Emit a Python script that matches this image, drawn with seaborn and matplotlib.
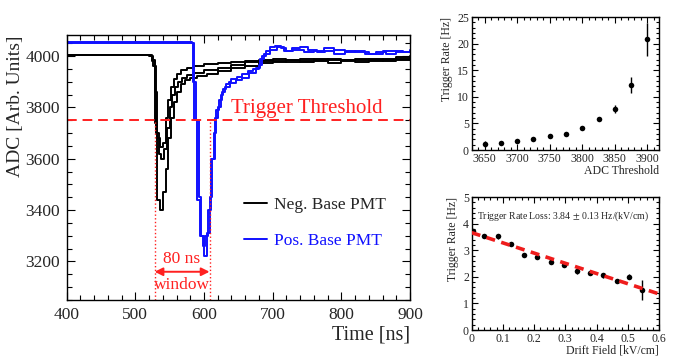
import numpy as np
import pandas as pd
import matplotlib
matplotlib.use("Agg")
import matplotlib.pyplot as plt
from matplotlib.ticker import MultipleLocator, FormatStrFormatter
import seaborn as sns

# waveforms: (time [ns], ADC) breakpoints, drawn as steps
neg_t1 = [400, 520, 524, 528, 532, 536, 540, 544, 548, 552, 556, 560, 566, 572, 580, 590, 605, 620, 640, 660, 680, 700, 720, 740, 760, 780, 800, 820, 840, 860, 880, 900]
neg_v1 = [4006, 4003, 3985, 3740, 3440, 3400, 3470, 3560, 3680, 3760, 3820, 3860, 3890, 3905, 3915, 3922, 3932, 3942, 3952, 3962, 3972, 3982, 3978, 3988, 3984, 3974, 3984, 3990, 3980, 3990, 3985, 3992]
neg_t2 = [400, 522, 526, 530, 534, 538, 542, 546, 550, 554, 558, 562, 568, 575, 585, 600, 620, 640, 660, 680, 700, 720, 740, 760, 780, 800, 820, 840, 860, 880, 900]
neg_v2 = [4005, 4000, 3960, 3700, 3620, 3600, 3640, 3720, 3800, 3850, 3880, 3900, 3915, 3925, 3935, 3945, 3955, 3965, 3975, 3980, 3975, 3985, 3980, 3990, 3985, 3980, 3985, 3990, 3985, 3995, 4000]
neg_t3 = [400, 520, 524, 528, 532, 536, 540, 544, 548, 552, 556, 560, 566, 575, 585, 600, 620, 640, 660, 680, 700, 720, 740, 760, 780, 800, 820, 840, 860, 880, 900]
neg_v3 = [4004, 4002, 3980, 3860, 3680, 3645, 3660, 3760, 3830, 3880, 3910, 3930, 3945, 3955, 3962, 3968, 3972, 3975, 3980, 3985, 3990, 3985, 3975, 3980, 3990, 3985, 3975, 3985, 3980, 3990, 3985]

pos_t1 = [400, 580, 584, 588, 592, 596, 600, 604, 608, 612, 616, 620, 624, 628, 632, 636, 640, 648, 656, 664, 672, 680, 684, 690, 696, 704, 712, 720, 730, 745, 760, 775, 790, 805, 820, 835, 850, 865, 880, 890, 900]
pos_v1 = [4052, 4050, 3900, 3750, 3450, 3300, 3220, 3310, 3450, 3600, 3760, 3800, 3850, 3870, 3890, 3900, 3910, 3920, 3930, 3940, 3950, 3965, 4000, 4020, 4035, 4040, 4030, 4020, 4025, 4015, 4020, 4030, 4025, 4015, 4020, 4010, 4015, 4010, 4020, 4015, 4025]
pos_t2 = [400, 582, 586, 590, 594, 598, 602, 606, 610, 614, 618, 622, 626, 630, 638, 646, 656, 666, 676, 682, 688, 696, 706, 716, 728, 740, 752, 764, 776, 790, 805, 820, 840, 860, 880, 900]
pos_v2 = [4055, 4052, 3750, 3440, 3300, 3260, 3300, 3400, 3600, 3700, 3790, 3830, 3860, 3880, 3895, 3905, 3915, 3935, 3955, 3990, 4010, 4025, 4035, 4020, 4030, 4035, 4025, 4015, 4020, 4010, 4020, 4015, 4010, 4020, 4015, 4020]

threshold = 3750
window_start = 528
window_end = 608

# trigger rate vs ADC threshold
adc_thr = [3650, 3675, 3700, 3725, 3750, 3775, 3800, 3825, 3850, 3875, 3900]
rate_thr = [1.13, 1.38, 1.76, 2.07, 2.58, 3.0, 4.2, 5.78, 7.73, 12.3, 20.85]
rate_thr_err = [0.6, 0.2, 0.2, 0.2, 0.2, 0.2, 0.25, 0.35, 0.75, 1.5, 3.1]

# trigger rate vs drift field
field = [0.003, 0.0405, 0.084, 0.126, 0.168, 0.21, 0.253, 0.295, 0.337, 0.38, 0.42, 0.464, 0.504, 0.546]
rate_field = [3.71, 3.54, 3.52, 3.24, 2.81, 2.74, 2.55, 2.45, 2.2, 2.16, 2.05, 1.85, 2.01, 1.51]
rate_field_err = [0.08, 0.08, 0.08, 0.08, 0.08, 0.08, 0.08, 0.08, 0.08, 0.08, 0.08, 0.08, 0.08, 0.38]
fit_intercept = 3.66
fit_slope = -3.84
fit_range = [0.0, 0.6]

sns.set_theme(style="ticks")
plt.rcParams['font.family'] = ['Liberation Serif', 'DejaVu Serif']
plt.rcParams['mathtext.fontset'] = 'stix'

fig = plt.figure(figsize=(6.78, 3.58), dpi=100)
ax = fig.add_axes([0.0984, 0.162, 0.5063, 0.7402])
ax_top = fig.add_axes([0.6957, 0.581, 0.2763, 0.3715])
ax_bot = fig.add_axes([0.6957, 0.0782, 0.2763, 0.3715])


def root_ticks(a, xmaj, xmin, ymaj, ymin, size, major_len, minor_len, pad):
    a.xaxis.set_major_locator(MultipleLocator(xmaj))
    a.xaxis.set_minor_locator(MultipleLocator(xmin))
    a.yaxis.set_major_locator(MultipleLocator(ymaj))
    a.yaxis.set_minor_locator(MultipleLocator(ymin))
    a.tick_params(which='both', direction='in', top=True, right=True,
                  labelsize=size, width=0.8, color='black', pad=pad)
    a.tick_params(which='major', length=major_len)
    a.tick_params(which='minor', length=minor_len)
    for s in a.spines.values():
        s.set_linewidth(1.0)
        s.set_color('black')


# --- main waveform panel
for t, v in [(neg_t1, neg_v1), (neg_t2, neg_v2), (neg_t3, neg_v3)]:
    sns.lineplot(x=t, y=v, ax=ax, color='black', lw=1.4, drawstyle='steps-post',
                 estimator=None, sort=False)
for t, v in [(pos_t1, pos_v1), (pos_t2, pos_v2)]:
    sns.lineplot(x=t, y=v, ax=ax, color='#1010ff', lw=1.4, drawstyle='steps-post',
                 estimator=None, sort=False)

ax.axhline(threshold, color='#ff2020', lw=1.4, ls=(0, (5, 3)))
ax.text(0.921, 0.7245, 'Trigger Threshold', transform=ax.transAxes, ha='right',
        va='center', color='#ff2020', fontsize=15)
for w in [window_start, window_end]:
    ax.plot([w, w], [3050, threshold], color='#ff2020', lw=1.0, ls=':')
ax.annotate('', xy=(window_start, 3160), xytext=(window_end, 3160),
            arrowprops=dict(arrowstyle='<|-|>', color='#ff2020', lw=1.4,
                            mutation_scale=12, shrinkA=0, shrinkB=0))
ax.text((window_start + window_end) / 2, 3208, '%d ns' % (window_end - window_start),
        ha='center', va='center', color='#ff2020', fontsize=12.5)
ax.text((window_start + window_end) / 2, 3110, 'window', ha='center', va='center',
        color='#ff2020', fontsize=12.5)

ax.plot([], [], color='black', lw=1.4, label='Neg. Base PMT')
ax.plot([], [], color='#1010ff', lw=1.4, label='Pos. Base PMT')
leg = ax.legend(loc='lower right', bbox_to_anchor=(0.975, 0.135), frameon=False,
                fontsize=12.5, handlelength=1.3, labelspacing=1.1, handletextpad=0.4)
leg.get_texts()[1].set_color('#1010ff')

ax.set_xlim(400, 900)
ax.set_ylim(3050, 4082)
root_ticks(ax, 100, 20, 200, 50, 12.5, 6, 3.5, 5)
ax.set_xlabel('Time [ns]', fontsize=14.5, loc='right', labelpad=2)
ax.set_ylabel('ADC [Arb. Units]', fontsize=14, loc='top', labelpad=1)

# --- trigger rate vs threshold
df_thr = pd.DataFrame({'thr': adc_thr, 'rate': rate_thr})
ax_top.errorbar(adc_thr, rate_thr, yerr=rate_thr_err, fmt='none', ecolor='black',
                elinewidth=1.0)
sns.scatterplot(data=df_thr, x='thr', y='rate', ax=ax_top, color='black', s=16,
                edgecolor='black', linewidth=0, zorder=3)
ax_top.set_xlim(3630, 3918)
ax_top.set_ylim(0, 25)
root_ticks(ax_top, 50, 10, 5, 1, 8.5, 4, 2, 2)
ax_top.set_xlabel('ADC Threshold', fontsize=8.5, loc='right', labelpad=0)
ax_top.set_ylabel('Trigger Rate [Hz]', fontsize=8.5, loc='top', labelpad=3)

# --- trigger rate vs drift field
df_field = pd.DataFrame({'field': field, 'rate': rate_field})
ax_bot.errorbar(field, rate_field, yerr=rate_field_err, fmt='none', ecolor='black',
                elinewidth=1.0)
sns.scatterplot(data=df_field, x='field', y='rate', ax=ax_bot, color='black', s=16,
                linewidth=0, zorder=3)
fit_y = [fit_intercept + fit_slope * x for x in fit_range]
sns.lineplot(x=fit_range, y=fit_y, ax=ax_bot, color='#ee1c1c', lw=2.6,
             ls=(0, (2.5, 1.8)), zorder=4)
ax_bot.text(0.03, 0.853, 'Trigger Rate Loss: 3.84 $\\pm$ 0.13 Hz/(kV/cm)',
            transform=ax_bot.transAxes, fontsize=7, va='center', ha='left')
ax_bot.set_xlim(0, 0.6)
ax_bot.set_ylim(0, 5)
root_ticks(ax_bot, 0.1, 0.02, 1, 0.2, 8.5, 4, 2, 2)
ax_bot.xaxis.set_major_formatter(FormatStrFormatter('%g'))
ax_bot.set_xlabel('Drift Field [kV/cm]', fontsize=8.5, loc='right', labelpad=0)
ax_bot.set_ylabel('Trigger Rate [Hz]', fontsize=8.5, loc='top', labelpad=3)

fig.savefig('out.png', dpi=100)
